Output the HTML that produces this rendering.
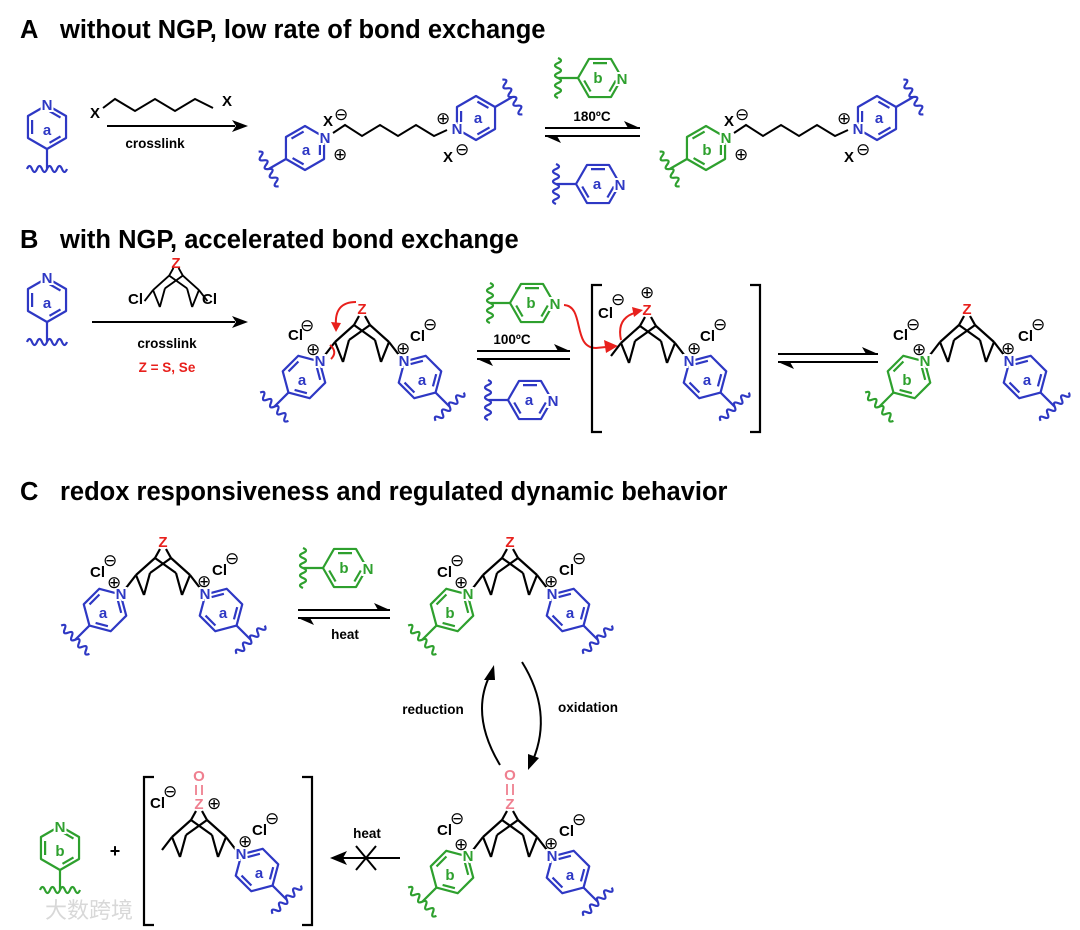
<!DOCTYPE html>
<html><head><meta charset="utf-8"><style>
html,body{margin:0;padding:0;background:#fff}
svg{display:block}
text{font-family:"Liberation Sans",Arial,sans-serif;font-weight:bold}
.h{font-size:25.5px}
.t{font-size:15px}
.s{font-size:13.5px}
.c{font-family:"DejaVu Sans",sans-serif;font-weight:normal;font-size:17px}
.n{font-size:15px;paint-order:stroke;stroke:#fff;stroke-width:4px}
.B{fill:#2e38c4}.G{fill:#2ea02e}.R{fill:#e8201c}.P{fill:#ef7f8f}
</style></head><body>
<svg width="1080" height="930" viewBox="0 0 1080 930" xmlns="http://www.w3.org/2000/svg">
<defs>
<g id="ring" fill="none" stroke="currentColor" stroke-width="2.2" stroke-linejoin="round">
<polygon points="0,-22 19.05,-11 19.05,11 0,22 -19.05,11 -19.05,-11"/>
<path d="M2.5,-15.8 L13.5,-9.4 M-14.9,7 L-14.9,-7 M13.5,9.4 L2.5,15.8"/>
<path d="M0,22 L0,42 M-20,42 q2.5,-6 5,0 t5,0 t5,0 t5,0 t5,0 t5,0 t5,0 t5,0"/>
</g>
<g id="sk" fill="none" stroke="#000" stroke-width="2.2" stroke-linejoin="round">
<path d="M-3,7 L-8,16 M3,7 L8,16 M-8,16 L-27,33 M-8,16 L13,31 M8,16 L-13,31 M8,16 L27,33 M-27,33 L-19,53 M-13,31 L-19,53 M27,33 L19,53 M13,31 L19,53 M-27,33 L-37,46 M27,33 L37,46"/>
</g>
</defs>

<!-- ===== A ===== -->
<text class="h" x="20" y="38">A</text>
<text class="h" x="60" y="38">without NGP, low rate of bond exchange</text>

<use href="#ring" transform="translate(47,127)" style="color:#2e38c4"/>
<text class="n B" x="47" y="110" text-anchor="middle">N</text>
<text class="t B" x="47" y="135" text-anchor="middle">a</text>

<line x1="107" y1="126" x2="235" y2="126" stroke="#000" stroke-width="2"/>
<polygon points="248,126 232,120 236,126 232,132" fill="#000"/>
<polyline points="103,108 115,99 135,111 155,99 175,111 195,99 213,108" fill="none" stroke="#000" stroke-width="2"/>
<text class="t" x="90" y="118">X</text>
<text class="t" x="222" y="106">X</text>
<text class="s" x="155" y="148" text-anchor="middle">crosslink</text>

<use href="#ring" transform="translate(305,148) rotate(60)" style="color:#2e38c4"/>
<text class="n B" x="325" y="143" text-anchor="middle">N</text>
<text class="t B" x="306" y="155" text-anchor="middle">a</text>
<polyline points="333,133 345,125 362,136 380,125 398,136 416,125 434,136 447,130" fill="none" stroke="#000" stroke-width="2"/>
<text class="t" x="323" y="126">X</text><text class="c" x="334" y="120">⊖</text>
<text class="c" x="333" y="160">⊕</text>
<use href="#ring" transform="translate(476,118) rotate(240)" style="color:#2e38c4"/>
<text class="n B" x="457" y="134" text-anchor="middle">N</text>
<text class="t B" x="478" y="123" text-anchor="middle">a</text>
<text class="c" x="436" y="124">⊕</text>
<text class="t" x="443" y="162">X</text><text class="c" x="455" y="155">⊖</text>

<line x1="545" y1="128" x2="640" y2="128" stroke="#000" stroke-width="2"/>
<polygon points="640,128 624,121 628,128" fill="#000"/>
<line x1="545" y1="136" x2="640" y2="136" stroke="#000" stroke-width="2"/>
<polygon points="545,136 561,143 557,136" fill="#000"/>
<text class="s" x="592" y="121" text-anchor="middle">180ºC</text>
<use href="#ring" transform="translate(600,78) rotate(90)" style="color:#2ea02e"/>
<text class="n G" x="622" y="84" text-anchor="middle">N</text>
<text class="t G" x="598" y="83" text-anchor="middle">b</text>
<use href="#ring" transform="translate(598,184) rotate(90)" style="color:#2e38c4"/>
<text class="n B" x="620" y="190" text-anchor="middle">N</text>
<text class="t B" x="597" y="189" text-anchor="middle">a</text>

<use href="#ring" transform="translate(706,148) rotate(60)" style="color:#2ea02e"/>
<text class="n G" x="726" y="143" text-anchor="middle">N</text>
<text class="t G" x="707" y="155" text-anchor="middle">b</text>
<polyline points="734,133 746,125 763,136 781,125 799,136 817,125 835,136 848,130" fill="none" stroke="#000" stroke-width="2"/>
<text class="t" x="724" y="126">X</text><text class="c" x="735" y="120">⊖</text>
<text class="c" x="734" y="160">⊕</text>
<use href="#ring" transform="translate(877,118) rotate(240)" style="color:#2e38c4"/>
<text class="n B" x="858" y="134" text-anchor="middle">N</text>
<text class="t B" x="879" y="123" text-anchor="middle">a</text>
<text class="c" x="837" y="124">⊕</text>
<text class="t" x="844" y="162">X</text><text class="c" x="856" y="155">⊖</text>

<!-- ===== B ===== -->
<text class="h" x="20" y="248">B</text>
<text class="h" x="60" y="248">with NGP, accelerated bond exchange</text>

<use href="#ring" transform="translate(47,300)" style="color:#2e38c4"/>
<text class="n B" x="47" y="283" text-anchor="middle">N</text>
<text class="t B" x="47" y="308" text-anchor="middle">a</text>

<text class="t R" x="176" y="268" text-anchor="middle">Z</text>
<use href="#sk" transform="translate(176,262) scale(0.85)"/>
<text class="t" x="128" y="304">Cl</text>
<text class="t" x="202" y="304">Cl</text>
<line x1="92" y1="322" x2="235" y2="322" stroke="#000" stroke-width="2"/>
<polygon points="248,322 232,316 236,322 232,328" fill="#000"/>
<text class="s" x="167" y="348" text-anchor="middle">crosslink</text>
<text class="s R" x="167" y="372" text-anchor="middle">Z = S, Se</text>

<!-- B product -->
<text class="t R" x="362" y="314" text-anchor="middle">Z</text>
<use href="#sk" transform="translate(362,309)"/>
<use href="#ring" transform="translate(304,377) rotate(45)" style="color:#2e38c4"/>
<text class="n B" x="320" y="366" text-anchor="middle">N</text>
<text class="t B" x="302" y="385" text-anchor="middle">a</text>
<use href="#ring" transform="translate(420,377) rotate(-45)" style="color:#2e38c4"/>
<text class="n B" x="404" y="366" text-anchor="middle">N</text>
<text class="t B" x="422" y="385" text-anchor="middle">a</text>
<text class="t" x="288" y="340">Cl</text><text class="c" x="300" y="331">⊖</text>
<text class="c" x="306" y="355">⊕</text>
<text class="c" x="396" y="354">⊕</text>
<text class="t" x="410" y="341">Cl</text><text class="c" x="423" y="330">⊖</text>
<path d="M356,302 Q334,302 336,326" fill="none" stroke="#e8201c" stroke-width="2"/>
<polygon points="336,332 331,322 341,323" fill="#e8201c"/>
<path d="M330,345 q8,7 1,14" fill="none" stroke="#e8201c" stroke-width="2"/>

<line x1="477" y1="351" x2="570" y2="351" stroke="#000" stroke-width="2"/>
<polygon points="570,351 554,344 558,351" fill="#000"/>
<line x1="477" y1="359" x2="570" y2="359" stroke="#000" stroke-width="2"/>
<polygon points="477,359 493,366 489,359" fill="#000"/>
<text class="s" x="512" y="344" text-anchor="middle">100ºC</text>
<use href="#ring" transform="translate(532,303) rotate(90)" style="color:#2ea02e"/>
<text class="n G" x="555" y="309" text-anchor="middle">N</text>
<text class="t G" x="531" y="308" text-anchor="middle">b</text>
<use href="#ring" transform="translate(530,400) rotate(90)" style="color:#2e38c4"/>
<text class="n B" x="553" y="406" text-anchor="middle">N</text>
<text class="t B" x="529" y="405" text-anchor="middle">a</text>
<path d="M564,305 C585,306 572,348 596,348 L606,347" fill="none" stroke="#e8201c" stroke-width="2"/>
<polygon points="618,346 604,340 606,353" fill="#e8201c"/>

<!-- bracket intermediate -->
<path d="M602,285 L592,285 L592,432 L602,432 M750,285 L760,285 L760,432 L750,432" fill="none" stroke="#000" stroke-width="2.2"/>
<text class="t R" x="647" y="315" text-anchor="middle">Z</text>
<text class="c" x="640" y="298">⊕</text>
<use href="#sk" transform="translate(648,310)"/>
<text class="t" x="598" y="318">Cl</text><text class="c" x="611" y="305">⊖</text>
<use href="#ring" transform="translate(705,377) rotate(-45)" style="color:#2e38c4"/>
<text class="n B" x="689" y="366" text-anchor="middle">N</text>
<text class="t B" x="707" y="385" text-anchor="middle">a</text>
<text class="c" x="687" y="354">⊕</text>
<text class="t" x="700" y="341">Cl</text><text class="c" x="713" y="330">⊖</text>
<path d="M621,340 Q616,317 638,312" fill="none" stroke="#e8201c" stroke-width="2"/>
<polygon points="643,310 632,307 634,317" fill="#e8201c"/>

<line x1="778" y1="354" x2="878" y2="354" stroke="#000" stroke-width="2"/>
<polygon points="878,354 862,347 866,354" fill="#000"/>
<line x1="778" y1="362" x2="878" y2="362" stroke="#000" stroke-width="2"/>
<polygon points="778,362 794,369 790,362" fill="#000"/>

<text class="t R" x="967" y="314" text-anchor="middle">Z</text>
<use href="#sk" transform="translate(967,309)"/>
<use href="#ring" transform="translate(909,377) rotate(45)" style="color:#2ea02e"/>
<text class="n G" x="925" y="366" text-anchor="middle">N</text>
<text class="t G" x="907" y="385" text-anchor="middle">b</text>
<use href="#ring" transform="translate(1025,377) rotate(-45)" style="color:#2e38c4"/>
<text class="n B" x="1009" y="366" text-anchor="middle">N</text>
<text class="t B" x="1027" y="385" text-anchor="middle">a</text>
<text class="t" x="893" y="340">Cl</text><text class="c" x="906" y="330">⊖</text>
<text class="c" x="912" y="355">⊕</text>
<text class="c" x="1001" y="354">⊕</text>
<text class="t" x="1018" y="341">Cl</text><text class="c" x="1031" y="330">⊖</text>

<!-- ===== C ===== -->
<text class="h" x="20" y="500">C</text>
<text class="h" x="60" y="500">redox responsiveness and regulated dynamic behavior</text>

<text class="t R" x="163" y="547" text-anchor="middle">Z</text>
<use href="#sk" transform="translate(163,542)"/>
<use href="#ring" transform="translate(105,610) rotate(45)" style="color:#2e38c4"/>
<text class="n B" x="121" y="599" text-anchor="middle">N</text>
<text class="t B" x="103" y="618" text-anchor="middle">a</text>
<use href="#ring" transform="translate(221,610) rotate(-45)" style="color:#2e38c4"/>
<text class="n B" x="205" y="599" text-anchor="middle">N</text>
<text class="t B" x="223" y="618" text-anchor="middle">a</text>
<text class="t" x="90" y="577">Cl</text><text class="c" x="103" y="566">⊖</text>
<text class="c" x="107" y="588">⊕</text>
<text class="c" x="197" y="587">⊕</text>
<text class="t" x="212" y="575">Cl</text><text class="c" x="225" y="564">⊖</text>

<line x1="298" y1="610" x2="390" y2="610" stroke="#000" stroke-width="2"/>
<polygon points="390,610 374,603 378,610" fill="#000"/>
<line x1="298" y1="618" x2="390" y2="618" stroke="#000" stroke-width="2"/>
<polygon points="298,618 314,625 310,618" fill="#000"/>
<text class="s" x="345" y="639" text-anchor="middle">heat</text>
<use href="#ring" transform="translate(345,568) rotate(90)" style="color:#2ea02e"/>
<text class="n G" x="368" y="574" text-anchor="middle">N</text>
<text class="t G" x="344" y="573" text-anchor="middle">b</text>

<text class="t R" x="510" y="547" text-anchor="middle">Z</text>
<use href="#sk" transform="translate(510,542)"/>
<use href="#ring" transform="translate(452,610) rotate(45)" style="color:#2ea02e"/>
<text class="n G" x="468" y="599" text-anchor="middle">N</text>
<text class="t G" x="450" y="618" text-anchor="middle">b</text>
<use href="#ring" transform="translate(568,610) rotate(-45)" style="color:#2e38c4"/>
<text class="n B" x="552" y="599" text-anchor="middle">N</text>
<text class="t B" x="570" y="618" text-anchor="middle">a</text>
<text class="t" x="437" y="577">Cl</text><text class="c" x="450" y="566">⊖</text>
<text class="c" x="454" y="588">⊕</text>
<text class="c" x="544" y="587">⊕</text>
<text class="t" x="559" y="575">Cl</text><text class="c" x="572" y="564">⊖</text>

<!-- redox cycle -->
<path d="M500,765 Q470,715 490,675" fill="none" stroke="#000" stroke-width="2"/>
<polygon points="494,665 484,680 495,680" fill="#000"/>
<path d="M522,662 Q553,712 533,760" fill="none" stroke="#000" stroke-width="2"/>
<polygon points="528,770 528,754 539,758" fill="#000"/>
<text class="s" x="433" y="714" text-anchor="middle">reduction</text>
<text class="s" x="588" y="712" text-anchor="middle">oxidation</text>

<!-- bottom right -->
<text class="t P" x="510" y="780" text-anchor="middle">O</text>
<path d="M507,784 L507,795 M513,784 L513,795" stroke="#ef7f8f" stroke-width="1.8"/>
<text class="t P" x="510" y="809" text-anchor="middle">Z</text>
<use href="#sk" transform="translate(510,804)"/>
<use href="#ring" transform="translate(452,872) rotate(45)" style="color:#2ea02e"/>
<text class="n G" x="468" y="861" text-anchor="middle">N</text>
<text class="t G" x="450" y="880" text-anchor="middle">b</text>
<use href="#ring" transform="translate(568,872) rotate(-45)" style="color:#2e38c4"/>
<text class="n B" x="552" y="861" text-anchor="middle">N</text>
<text class="t B" x="570" y="880" text-anchor="middle">a</text>
<text class="t" x="437" y="835">Cl</text><text class="c" x="450" y="824">⊖</text>
<text class="c" x="454" y="850">⊕</text>
<text class="c" x="544" y="849">⊕</text>
<text class="t" x="559" y="836">Cl</text><text class="c" x="572" y="825">⊖</text>

<!-- blocked arrow -->
<line x1="343" y1="858" x2="400" y2="858" stroke="#000" stroke-width="2"/>
<polygon points="330,858 347,851 343,858 347,865" fill="#000"/>
<path d="M356,846 L376,870 M376,846 L356,870" stroke="#000" stroke-width="2"/>
<text class="s" x="367" y="838" text-anchor="middle">heat</text>

<!-- bracket bottom -->
<path d="M154,777 L144,777 L144,925 L154,925 M302,777 L312,777 L312,925 L302,925" fill="none" stroke="#000" stroke-width="2.2"/>
<text class="t P" x="199" y="781" text-anchor="middle">O</text>
<path d="M196,785 L196,795 M202,785 L202,795" stroke="#ef7f8f" stroke-width="1.8"/>
<text class="t P" x="199" y="809" text-anchor="middle">Z</text>
<text class="c" x="207" y="809">⊕</text>
<use href="#sk" transform="translate(199,804)"/>
<text class="t" x="150" y="808">Cl</text><text class="c" x="163" y="797">⊖</text>
<use href="#ring" transform="translate(257,870) rotate(-45)" style="color:#2e38c4"/>
<text class="n B" x="241" y="859" text-anchor="middle">N</text>
<text class="t B" x="259" y="878" text-anchor="middle">a</text>
<text class="c" x="238" y="847">⊕</text>
<text class="t" x="252" y="835">Cl</text><text class="c" x="265" y="824">⊖</text>

<text class="h" x="115" y="857" text-anchor="middle" style="font-size:18px">+</text>

<use href="#ring" transform="translate(60,848)" style="color:#2ea02e"/>
<text class="n G" x="60" y="832" text-anchor="middle">N</text>
<text class="t G" x="60" y="856" text-anchor="middle">b</text>

<text x="45" y="918" style="font-family:'Noto Sans CJK SC',sans-serif;font-size:22px;fill:#d8d8d8;font-weight:normal">大数跨境</text>
</svg>
</body></html>
